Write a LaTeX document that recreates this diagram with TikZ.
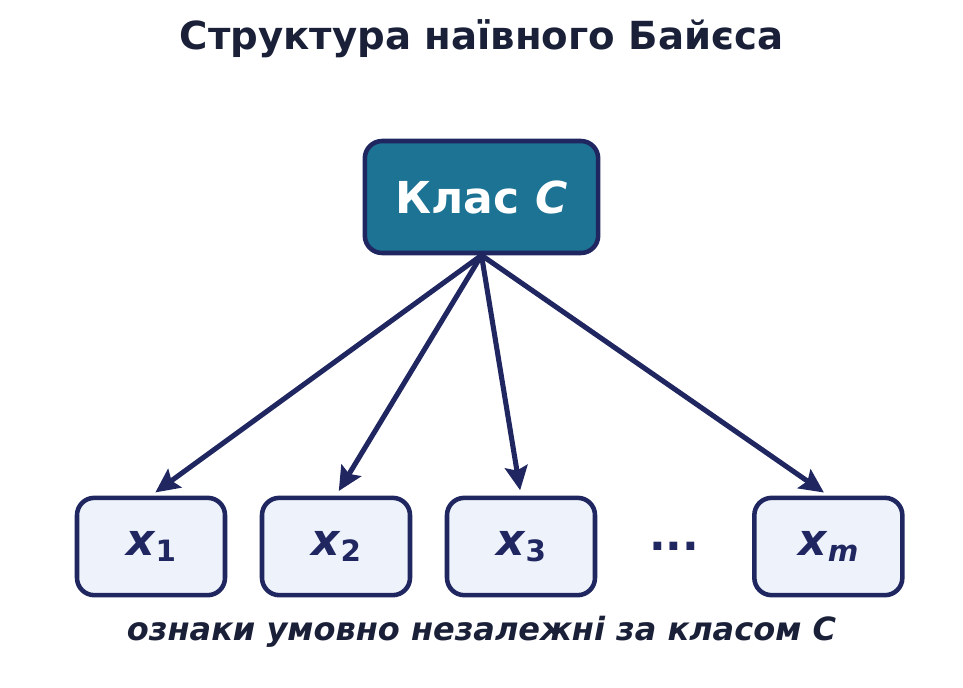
\documentclass[tikz,border=0pt]{standalone}
\usepackage{fontspec}
\setmainfont{DejaVu Sans}
\usepackage{tikz}
\usetikzlibrary{arrows.meta, positioning}

\definecolor{navy}{HTML}{1F2660}
\definecolor{ink}{HTML}{1A2038}
\definecolor{teal}{HTML}{1D7394}
\definecolor{pale}{HTML}{EEF2FB}

\newcommand{\feat}[1]{\textit{x}\raisebox{-4.5pt}{\fontsize{22}{22}\selectfont #1}}

\begin{document}
\begin{tikzpicture}[x=0.75pt, y=-0.75pt, node distance=138.75pt, on grid,
    classbox/.style={draw=navy, fill=teal, line width=3.4pt, rounded corners=13pt,
        minimum width=175pt, minimum height=84pt, text=white,
        font=\fontsize{33}{33}\selectfont\bfseries},
    featbox/.style={draw=navy, fill=pale, line width=3.4pt, rounded corners=13pt,
        minimum width=111pt, minimum height=73pt, text=navy,
        font=\fontsize{33}{33}\selectfont\bfseries},
    link/.style={-{Stealth[length=18pt, width=17pt, inset=3pt]}, draw=navy,
        line width=3.8pt, shorten >=4pt}]
    \useasboundingbox (0,0) rectangle (963,687);

    \node[anchor=base, text=ink, font=\fontsize{29}{29}\selectfont\bfseries]
        (title) at (481.5,49) {Структура наївного Байєса};

    \node[classbox] (C) at (481.5,197) {Клас \textit{C}};

    \node[featbox] (x1) at (151,546.5) {\feat{1}};
    \node[featbox] (x2) [right=of x1] {\feat{2}};
    \node[featbox] (x3) [right=of x2] {\feat{3}};
    \node[text=navy, font=\fontsize{33}{33}\selectfont\bfseries]
        (dots) [right=115pt of x3] {...};
    \node[featbox] (xm) [right=115.5pt of dots] {\feat{\textit{m}}};

    \draw[link] (C.south) -- (x1.north);
    \draw[link] (C.south) -- (x2.north);
    \draw[link] (C.south) -- (x3.north);
    \draw[link] (C.south) -- (xm.north);

    \node[anchor=base, text=ink, font=\fontsize{24}{24}\selectfont\bfseries\itshape]
        (note) at (481.5,640) {ознаки умовно незалежні за класом C};
\end{tikzpicture}
\end{document}
